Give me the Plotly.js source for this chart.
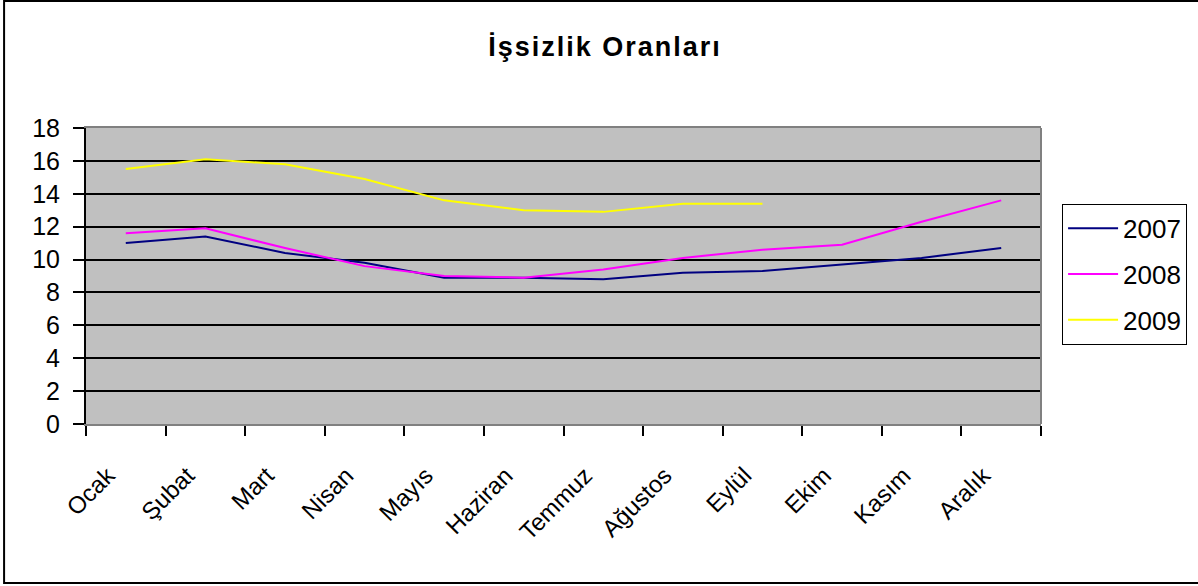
<!DOCTYPE html>
<html>
<head>
<meta charset="utf-8">
<script src="https://cdn.plot.ly/plotly-3.0.1.min.js"></script>
<style>
html,body{margin:0;padding:0;background:#fff;}
#chart{width:1198px;height:586px;}
.gtitle{letter-spacing:2px;}
</style>
</head>
<body>
<div id="chart"></div>
<script>
const months = ["Ocak","Şubat","Mart","Nisan","Mayıs","Haziran","Temmuz","Ağustos","Eylül","Ekim","Kasım","Aralık"];
const y2007 = [11.0, 11.4, 10.4, 9.8, 8.9, 8.9, 8.8, 9.2, 9.3, 9.7, 10.1, 10.7];
const y2008 = [11.6, 11.9, 10.7, 9.6, 9.0, 8.9, 9.4, 10.1, 10.6, 10.9, 12.3, 13.6];
const y2009 = [15.5, 16.1, 15.8, 14.9, 13.6, 13.0, 12.9, 13.4, 13.4];
const yTicks = [0,2,4,6,8,10,12,14,16,18];
const seriesNames = ["2007","2008","2009"];
const colors = ["#000080","#FF00FF","#FFFF00"];

const font = "Liberation Sans, Arial, sans-serif";
const data = [y2007, y2008, y2009].map((vals, i) => ({
  type: "scatter",
  mode: "lines",
  x: months.slice(0, vals.length),
  y: vals,
  name: seriesNames[i],
  legendgroup: "g" + i,
  line: {color: colors[i], width: 2}
}));

const layout = {
  width: 1198,
  height: 586,
  margin: {l: 86, r: 156, t: 128, b: 162},
  paper_bgcolor: "#ffffff",
  plot_bgcolor: "#C0C0C0",
  font: {family: font, size: 24, color: "#000"},
  title: {
    text: "<b>İşsizlik Oranları</b>",
    font: {family: font, size: 27, color: "#000"},
    x: 0.505, xanchor: "center",
    y: 0.92, yanchor: "middle"
  },
  xaxis: {
    type: "category",
    categoryorder: "array",
    categoryarray: months,
    range: [-0.5, 11.5],
    tickson: "boundaries",
    ticks: "outside",
    ticklen: 10,
    tickwidth: 2,
    tickcolor: "#000",
    tickangle: -45,
    ticklabelstandoff: 26,
    ticklabelshift: -18,
    tickfont: {family: font, size: 24, color: "#000"},
    showgrid: false,
    showline: true,
    linecolor: "#808080",
    linewidth: 2,
    mirror: true,
    zeroline: false,
    fixedrange: true
  },
  yaxis: {
    range: [0, 18],
    tickvals: yTicks,
    ticktext: yTicks.map(String),
    ticks: "outside",
    ticklen: 11,
    tickwidth: 2,
    tickcolor: "#000",
    ticklabelstandoff: 8,
    tickfont: {family: font, size: 25, color: "#000"},
    showgrid: true,
    gridcolor: "#000",
    gridwidth: 2,
    showline: true,
    linecolor: "#000",
    linewidth: 2,
    zeroline: false,
    fixedrange: true
  },
  showlegend: true,
  legend: {
    x: 1.021, xanchor: "left",
    y: 0.744, yanchor: "top",
    bgcolor: "#ffffff",
    bordercolor: "#000",
    borderwidth: 1,
    font: {family: font, size: 26, color: "#000"},
    traceorder: "grouped",
    tracegroupgap: 9,
    itemwidth: 50
  },
  shapes: [
    {type: "line", xref: "paper", yref: "paper", x0: 1, x1: 1, y0: 0, y1: 1,
     line: {color: "#808080", width: 2}, layer: "above"},
    {type: "rect", xref: "paper", yref: "paper",
     x0: (4 - 86) / 956, x1: (1215 - 86) / 956,
     y0: (424 - 583) / 296, y1: (424 - 1) / 296,
     line: {color: "#000", width: 2}, fillcolor: "rgba(0,0,0,0)", layer: "above"}
  ]
};

Plotly.newPlot("chart", data, layout, {staticPlot: true});
</script>
</body>
</html>
